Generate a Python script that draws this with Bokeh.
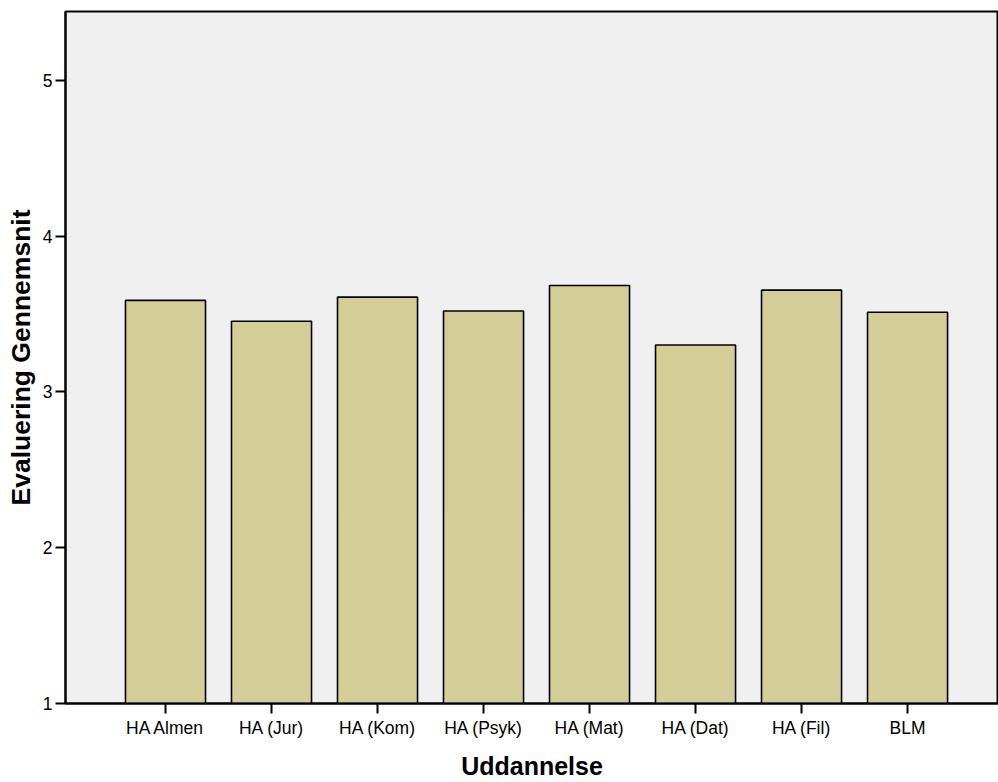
from bokeh.plotting import figure
from bokeh.models import ColumnDataSource, FixedTicker, Range1d
from bokeh.embed import file_html
from bokeh.resources import INLINE

categories = ["HA Almen", "HA (Jur)", "HA (Kom)", "HA (Psyk)", "HA (Mat)", "HA (Dat)", "HA (Fil)", "BLM"]
means = [3.588, 3.454, 3.609, 3.520, 3.684, 3.302, 3.654, 3.512]
y_ticks = [1, 2, 3, 4, 5]

xs = list(range(1, len(categories) + 1))
src = ColumnDataSource(dict(x=xs, top=means, bottom=[1] * len(means), cat=categories))

p = figure(width=998, height=782, output_backend="svg", toolbar_location=None,
           x_range=Range1d(0.0566, 8.858), y_range=Range1d(1, 5.443),
           min_border_left=65, min_border_top=11, min_border_right=0, min_border_bottom=76)

p.vbar(x="x", top="top", bottom="bottom", width=0.755, source=src,
       fill_color="#D3CE97", line_color="black", line_width=1.6)

p.background_fill_color = "#F0F0F0"
p.border_fill_color = "white"
p.outline_line_color = "black"
p.outline_line_width = 2
p.xgrid.visible = False
p.ygrid.visible = False

p.xaxis.ticker = FixedTicker(ticks=xs)
p.xaxis.major_label_overrides = {x: c for x, c in zip(xs, categories)}
p.yaxis.ticker = FixedTicker(ticks=y_ticks)

for ax in (p.xaxis[0], p.yaxis[0]):
    ax.axis_line_color = "black"
    ax.axis_line_width = 2
    ax.major_tick_line_color = "black"
    ax.major_tick_line_width = 2
    ax.major_tick_in = 0
    ax.major_tick_out = 10
    ax.minor_tick_line_color = None
    ax.major_label_text_font = "Liberation Sans"
    ax.major_label_text_font_size = "17.5px"
    ax.major_label_text_color = "black"
    ax.axis_label_text_font = "Liberation Sans"
    ax.axis_label_text_font_style = "bold"
    ax.axis_label_text_font_size = "25px"
    ax.axis_label_text_color = "black"

p.yaxis.axis_label_text_font_size = "26.5px"
p.xaxis.axis_label = "Uddannelse"
p.yaxis.axis_label = "Evaluering Gennemsnit"
p.xaxis.major_label_standoff = 4
p.yaxis.major_label_standoff = 3
p.xaxis.axis_label_standoff = 11
p.yaxis.axis_label_standoff = 4

open("out.html", "w").write(file_html(p, INLINE))
